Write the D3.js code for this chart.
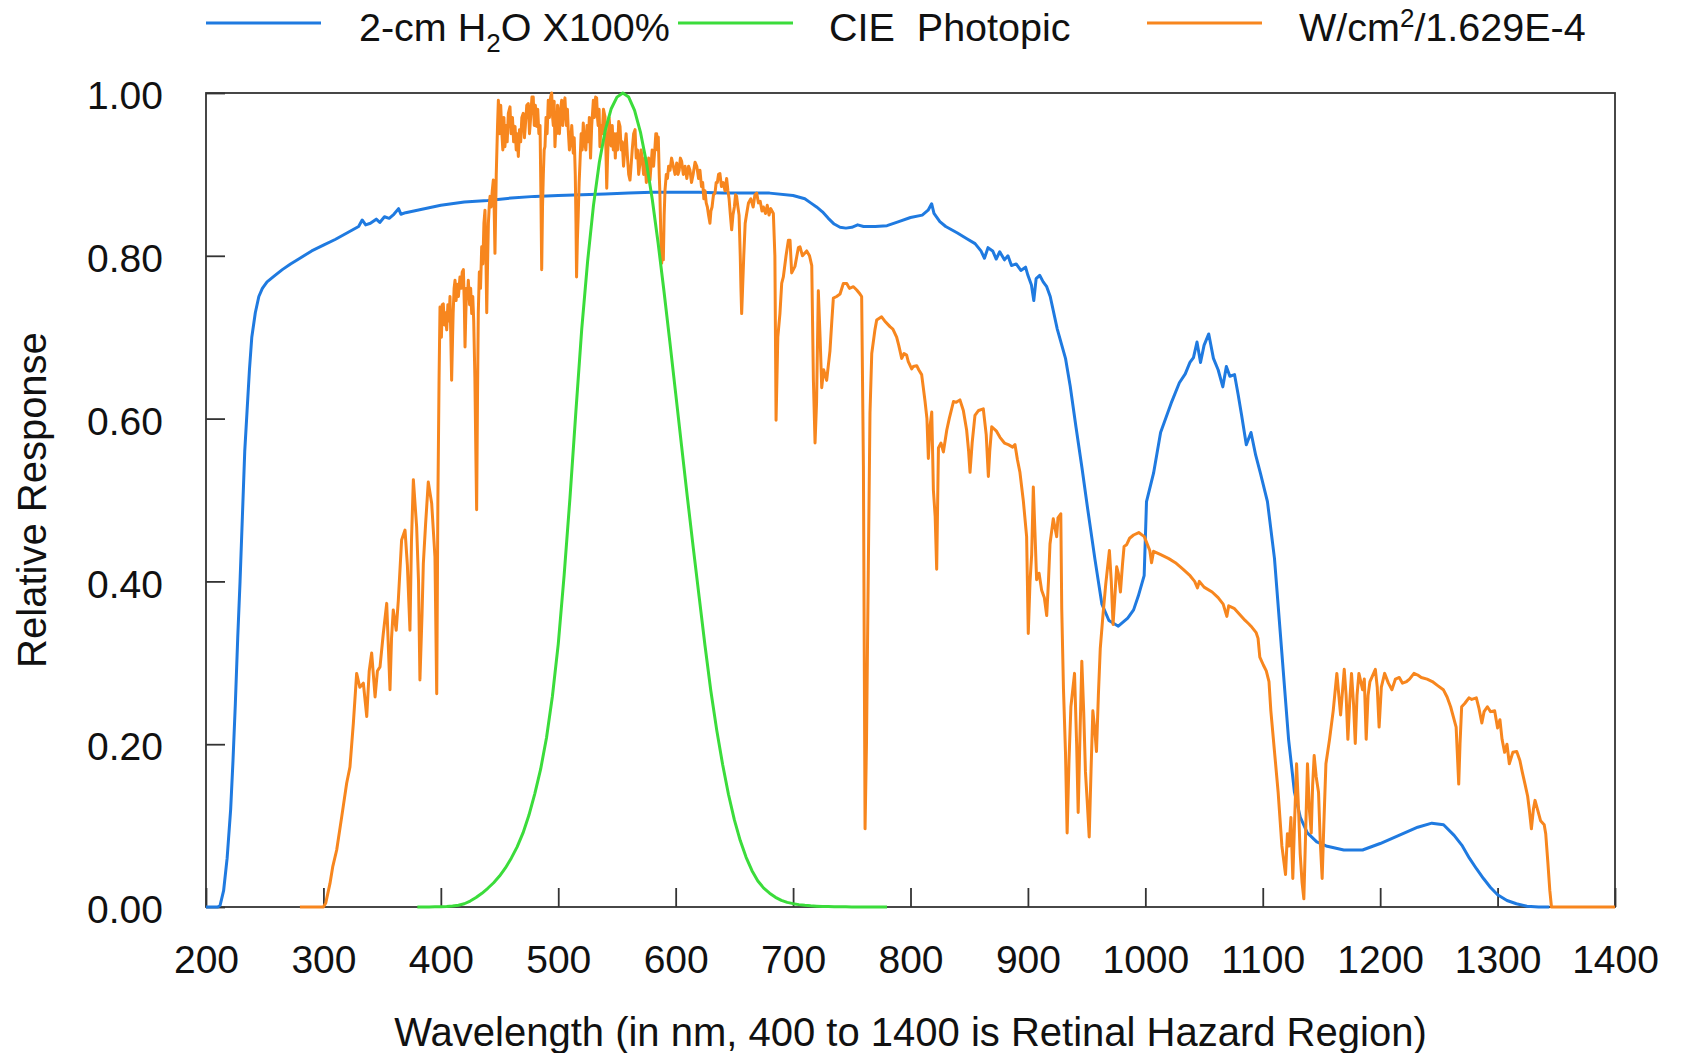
<!DOCTYPE html>
<html>
<head>
<meta charset="utf-8">
<script src="https://cdn.jsdelivr.net/npm/d3@7/dist/d3.min.js"></script>
<style>
  html, body { margin: 0; padding: 0; background: #fff; }
  svg { display: block; }
  text { font-family: "Liberation Sans", Arial, Helvetica, sans-serif; fill: #111; }
</style>
</head>
<body>
<svg id="chart" width="1681" height="1053"></svg>
<script>
// Axis ticks
const xTicks = [200, 300, 400, 500, 600, 700, 800, 900, 1000, 1100, 1200, 1300, 1400];
const yTicks = [0, 0.2, 0.4, 0.6, 0.8, 1.0];

// 2-cm water transmission (x100%), [wavelength nm, relative response]
const waterTransmission = [
  [200,0],[210,0],[212,0.002],[215,0.02],[218,0.06],[221,0.12],[223,0.18],[225,0.25],[227,0.33],
  [229,0.40],[231,0.48],[233,0.56],[235,0.61],[237,0.66],[239,0.70],[242,0.73],[245,0.75],[248,0.76],
  [252,0.768],[258,0.775],[265,0.783],[272,0.79],[280,0.797],[290,0.806],[300,0.813],[310,0.82],
  [320,0.828],[330,0.836],[333,0.844],[336,0.838],[340,0.84],[345,0.845],[348,0.841],[352,0.848],
  [356,0.846],[360,0.851],[364,0.858],[366,0.851],[370,0.853],[380,0.856],[390,0.859],[400,0.862],
  [420,0.866],[440,0.868],[460,0.871],[480,0.873],[500,0.874],[520,0.875],[540,0.876],[560,0.877],
  [580,0.878],[600,0.878],[620,0.878],[640,0.877],[660,0.877],[680,0.877],[700,0.874],[710,0.87],
  [715,0.865],[720,0.86],[725,0.854],[730,0.846],[735,0.839],[740,0.835],[745,0.834],[750,0.835],
  [755,0.838],[760,0.836],[770,0.836],[780,0.837],[790,0.842],[800,0.847],[810,0.850],[815,0.856],
  [818,0.864],[820,0.852],[825,0.842],[830,0.836],[840,0.828],[848,0.821],[855,0.815],[860,0.806],
  [863,0.797],[866,0.81],[870,0.806],[873,0.796],[876,0.805],[880,0.795],[883,0.80],[886,0.788],
  [890,0.79],[894,0.782],[898,0.786],[900,0.776],[903,0.764],[905,0.745],[907,0.772],[910,0.776],
  [913,0.768],[916,0.762],[919,0.75],[925,0.71],[932,0.674],[936,0.64],[941,0.589],[946,0.54],
  [951,0.488],[957,0.428],[963,0.372],[969,0.352],[977,0.345],[985,0.355],[990,0.365],[994,0.382],
  [999,0.407],[1001,0.498],[1007,0.533],[1013,0.583],[1022,0.619],[1029,0.644],[1034,0.655],
  [1038,0.669],[1041,0.675],[1044,0.694],[1047,0.669],[1050,0.69],[1054,0.704],[1058,0.674],
  [1062,0.66],[1066,0.639],[1069,0.664],[1072,0.652],[1076,0.654],[1079,0.63],[1082,0.604],
  [1086,0.568],[1090,0.583],[1094,0.555],[1098,0.533],[1104,0.498],[1110,0.428],[1116,0.317],
  [1122,0.206],[1127,0.141],[1132,0.11],[1138,0.091],[1146,0.08],[1154,0.075],[1169,0.070],
  [1185,0.070],[1200,0.078],[1216,0.088],[1232,0.098],[1244,0.103],[1254,0.101],[1263,0.088],
  [1270,0.075],[1276,0.060],[1282,0.047],[1288,0.035],[1294,0.024],[1300,0.015],[1308,0.008],
  [1316,0.004],[1325,0.001],[1335,0],[1344,0]
];

// CIE 1931 photopic luminous efficiency V(lambda)
const photopic = [
  [380,0.000039],[385,0.000064],[390,0.00012],[395,0.000217],[400,0.000396],[405,0.00064],
  [410,0.00121],[415,0.00218],[420,0.004],[425,0.0073],[430,0.0116],[435,0.01684],[440,0.023],
  [445,0.0298],[450,0.038],[455,0.048],[460,0.06],[465,0.0739],[470,0.09098],[475,0.1126],
  [480,0.13902],[485,0.1693],[490,0.20802],[495,0.2586],[500,0.323],[505,0.4073],[510,0.503],
  [515,0.6082],[520,0.71],[525,0.7932],[530,0.862],[535,0.91485],[540,0.954],[545,0.9803],
  [550,0.99495],[555,1.0],[560,0.995],[565,0.9786],[570,0.952],[575,0.9154],[580,0.87],
  [585,0.8163],[590,0.757],[595,0.6949],[600,0.631],[605,0.5668],[610,0.503],[615,0.4412],
  [620,0.381],[625,0.321],[630,0.265],[635,0.217],[640,0.175],[645,0.1382],[650,0.107],
  [655,0.0816],[660,0.061],[665,0.04458],[670,0.032],[675,0.0232],[680,0.017],[685,0.01192],
  [690,0.00821],[695,0.005723],[700,0.004102],[705,0.002929],[710,0.002091],[715,0.001484],
  [720,0.001047],[725,0.00074],[730,0.00052],[735,0.000361],[740,0.000249],[745,0.000172],
  [750,0.00012],[755,0.0000848],[760,0.00006],[765,0.0000424],[770,0.00003],[775,0.0000212],
  [780,0.000015]
];

// Solar irradiance, W/cm^2 divided by 1.629E-4
const solarIrradiance = [
  [280,0],[290,0],[300,0],[302,0.005],[305.6,0.029],[308,0.05],[311.3,0.07],[315.6,0.111],
  [319.8,0.152],[322.6,0.172],[325.5,0.226],[328.3,0.287],[331,0.27],[334,0.275],[336.9,0.234],
  [339,0.29],[341.1,0.312],[344,0.258],[346,0.29],[348.2,0.295],[351,0.336],[353.9,0.373],
  [356.7,0.267],[358,0.33],[359.5,0.365],[362,0.34],[363.8,0.377],[366.6,0.451],[369.5,0.463],
  [371.5,0.42],[373.7,0.340],[375,0.45],[376.6,0.525],[379.4,0.467],[381,0.40],[382.2,0.279],
  [384,0.36],[385.1,0.422],[387,0.47],[389.3,0.522],[392.2,0.496],[395,0.43],[396.5,0.262],
  [397.5,0.50],[398.5,0.65],[399.3,0.737],[400.5,0.70],[401.2,0.74],[402.1,0.741],[403,0.715],
  [404,0.73],[405,0.709],[406,0.74],[407,0.72],[407.8,0.75],[408.5,0.70],[409.2,0.647],[410,0.70],
  [410.5,0.73],[411.3,0.76],[412.1,0.770],[413,0.745],[414,0.765],[415,0.75],[416.3,0.774],
  [417.3,0.76],[418.2,0.78],[419.2,0.783],[420,0.74],[420.6,0.688],[421.3,0.73],[422,0.76],
  [422.7,0.75],[423.4,0.77],[424.5,0.74],[425.4,0.76],[426.3,0.729],[427.2,0.75],[428,0.72],
  [429,0.65],[429.8,0.56],[430.5,0.488],[431.2,0.62],[431.9,0.73],[432.8,0.78],[433.8,0.76],
  [434.8,0.811],[435.8,0.79],[436.7,0.84],[437.6,0.856],[438.4,0.80],[439.1,0.73],[439.8,0.79],
  [440.5,0.84],[441.2,0.86],[441.9,0.873],[442.8,0.86],[443.8,0.88],[444.7,0.893],[445.4,0.86],
  [446.1,0.803],[447.2,0.90],[448.3,0.96],[449,0.991],[450,0.95],[451,0.985],[451.8,0.955],
  [452.8,0.93],[453.7,0.97],[454.6,0.934],[455.6,0.96],[456.5,0.94],[457.5,0.975],[458.9,0.983],
  [459.8,0.95],[461,0.97],[462,0.94],[463.2,0.959],[464.2,0.93],[465,0.95],[466,0.922],[467,0.955],
  [468,0.94],[469,0.97],[470.2,0.975],[471.2,0.945],[472,0.96],[473.2,0.985],[474.5,0.987],
  [475.5,0.95],[476.5,0.97],[477.6,0.995],[478.7,0.995],[479.6,0.96],[480.5,0.985],[481.6,0.959],
  [482.5,0.98],[483.5,0.95],[484.5,0.96],[485.2,0.88],[485.9,0.783],[486.6,0.86],[487.3,0.90],
  [488,0.93],[488.7,0.934],[489.6,0.97],[490.5,0.95],[491.5,0.991],[492.5,0.97],[493.5,0.995],
  [494.4,1.0],[495.2,0.97],[495.8,0.96],[496.5,0.99],[497.2,0.934],[498,0.96],[498.6,0.95],
  [499.4,0.985],[500,0.971],[501,0.95],[502,0.98],[502.9,0.991],[503.8,0.96],[504.7,0.985],
  [505.7,0.994],[506.5,0.97],[507,0.96],[507.8,0.98],[508.5,0.955],[509.5,0.93],[510.5,0.94],
  [511.5,0.96],[512.8,0.926],[513.6,0.945],[514.5,0.90],[515.1,0.84],[515.6,0.774],[516.3,0.82],
  [517,0.85],[517.8,0.89],[518.5,0.914],[519.5,0.95],[520.4,0.93],[521.3,0.963],[522.3,0.94],
  [523.5,0.93],[524.5,0.96],[525.6,0.94],[526.5,0.97],[527.5,0.92],[528.5,0.96],[529.9,0.991],
  [530.8,0.97],[531.8,0.995],[532.7,0.994],[533.4,0.97],[534,0.96],[534.8,0.98],[535.5,0.934],
  [536.5,0.96],[537.5,0.95],[538.5,0.98],[539.8,0.971],[540.6,0.93],[541.3,0.883],[542,0.92],
  [542.5,0.94],[543.3,0.97],[544.1,0.955],[545,0.935],[546,0.96],[546.9,0.93],[547.8,0.95],
  [548.6,0.92],[549.5,0.95],[550.5,0.93],[551.5,0.965],[552.6,0.959],[553.6,0.93],[554.5,0.94],
  [555.6,0.91],[556.8,0.934],[557.8,0.95],[559,0.92],[560,0.90],[561.1,0.893],[562,0.91],[563,0.93],
  [564.2,0.95],[565.4,0.955],[566.4,0.92],[567.5,0.93],[568.5,0.90],[569.6,0.914],[570.5,0.93],
  [571.5,0.92],[572.7,0.90],[573.9,0.92],[575,0.89],[576,0.90],[577,0.92],[578.1,0.893],[579,0.91],
  [580,0.93],[581.2,0.91],[582.4,0.934],[583.1,0.95],[583.8,0.950],[584.5,0.93],[585.2,0.946],
  [586,0.90],[586.5,0.88],[587.3,0.83],[588.1,0.791],[588.8,0.82],[589.5,0.795],[590.2,0.85],
  [590.9,0.88],[592,0.90],[593,0.895],[594,0.91],[595.2,0.905],[596.5,0.92],[598,0.91],[599.5,0.90],
  [600.9,0.914],[602,0.90],[603,0.905],[604,0.92],[605.1,0.916],[606.5,0.90],[608,0.91],
  [609.5,0.895],[611,0.91],[612.2,0.905],[613.5,0.89],[615,0.901],[616.5,0.915],[618,0.91],
  [619.5,0.895],[620.7,0.905],[622,0.885],[623,0.89],[624,0.87],[625,0.88],[626,0.865],[627,0.86],
  [628,0.85],[629.2,0.840],[630,0.855],[631,0.86],[632.2,0.875],[633.5,0.877],[634.5,0.89],
  [635.5,0.89],[636.5,0.90],[637.7,0.901],[639,0.885],[640.5,0.89],[642,0.88],[643.4,0.895],
  [644.5,0.88],[645.5,0.87],[646.6,0.85],[647.7,0.832],[648.8,0.85],[650,0.86],[651,0.875],
  [651.9,0.873],[653,0.86],[654,0.85],[655,0.80],[655.6,0.76],[656.2,0.729],[657,0.76],[658,0.80],
  [659.2,0.84],[660.5,0.852],[662,0.865],[664,0.87],[666,0.86],[667.5,0.875],[669,0.877],
  [670.5,0.865],[672,0.867],[673.5,0.855],[674.7,0.860],[676.5,0.852],[678,0.862],[679.5,0.85],
  [681,0.858],[683.2,0.852],[684.5,0.80],[685.5,0.598],[687,0.70],[688.8,0.729],[690.3,0.766],
  [691.7,0.774],[694,0.80],[696,0.819],[697.4,0.819],[698.8,0.779],[701.6,0.787],[704.5,0.810],
  [705.9,0.811],[708,0.80],[711.6,0.806],[714,0.80],[715.9,0.788],[717.3,0.647],[718.7,0.570],
  [720,0.62],[721.5,0.757],[723,0.70],[724.4,0.638],[726,0.66],[728.6,0.647],[731.4,0.683],
  [733,0.72],[734.3,0.748],[737.1,0.750],[740,0.753],[742.8,0.766],[745.7,0.766],[748,0.76],
  [751.4,0.762],[754.2,0.758],[757,0.753],[758.4,0.75],[759.9,0.542],[761.3,0.096],[762.5,0.20],
  [764.1,0.42],[765.5,0.607],[767,0.68],[769.7,0.709],[771.2,0.721],[775.4,0.725],[778,0.72],
  [782.5,0.713],[785,0.71],[788.2,0.700],[790,0.69],[792.5,0.674],[794.5,0.68],[796.7,0.678],
  [798.1,0.67],[801,0.661],[802.4,0.664],[805.3,0.665],[807,0.66],[809.5,0.654],[812.4,0.621],
  [814,0.60],[815.2,0.551],[816.6,0.59],[818.1,0.608],[819.5,0.512],[821,0.48],[822.3,0.415],
  [823.8,0.564],[826,0.57],[828,0.559],[830.9,0.586],[833,0.60],[836.6,0.621],[839,0.62],
  [842.1,0.623],[845,0.61],[847.8,0.586],[849.5,0.56],[850.7,0.534],[852.5,0.57],[854.9,0.604],
  [858,0.61],[862,0.612],[864.5,0.58],[866.3,0.529],[867.5,0.56],[869.2,0.590],[873,0.585],
  [876.2,0.577],[880,0.57],[883.3,0.568],[887,0.565],[889,0.568],[891,0.55],[893.2,0.534],
  [896.1,0.499],[898.9,0.455],[900.3,0.336],[901.8,0.40],[903.2,0.433],[904.6,0.516],[906,0.46],
  [907.4,0.402],[909.5,0.41],[911.7,0.389],[914,0.38],[916,0.358],[917.5,0.40],[918.8,0.446],
  [921.6,0.477],[924.5,0.455],[925.6,0.478],[928,0.483],[928.8,0.367],[930.3,0.267],[932,0.19],
  [933.4,0.091],[935,0.18],[936.6,0.246],[939.7,0.287],[941.5,0.2],[942.8,0.116],[944.5,0.22],
  [945.9,0.302],[947.5,0.24],[949,0.166],[950.5,0.13],[952.2,0.086],[953.8,0.17],[955.3,0.241],
  [956.8,0.22],[958.4,0.191],[960,0.26],[961.6,0.317],[964,0.36],[966.3,0.397],[969.4,0.438],
  [971,0.40],[972.5,0.347],[974,0.38],[975.6,0.418],[977,0.41],[978.8,0.387],[980.5,0.42],
  [981.9,0.443],[984,0.445],[986.6,0.453],[990,0.457],[994.4,0.460],[999.1,0.455],[1003.8,0.438],
  [1005.3,0.423],[1007,0.437],[1013.1,0.433],[1020,0.428],[1025.6,0.423],[1032,0.415],
  [1038.1,0.407],[1042,0.40],[1044.4,0.392],[1046,0.40],[1050,0.393],[1056.9,0.387],[1062,0.38],
  [1066.3,0.372],[1069.4,0.357],[1071,0.37],[1075.6,0.367],[1080,0.36],[1085,0.352],[1088,0.348],
  [1090,0.345],[1094.4,0.337],[1096,0.33],[1097.5,0.307],[1100.6,0.297],[1103,0.29],[1105.3,0.277],
  [1106.9,0.241],[1110,0.191],[1113.1,0.141],[1116.3,0.075],[1119.4,0.040],[1121,0.09],
  [1122.5,0.075],[1124,0.11],[1125.6,0.035],[1127,0.10],[1128.8,0.176],[1130.5,0.12],[1131.9,0.065],
  [1133.5,0.03],[1135,0.010],[1136.5,0.09],[1138.1,0.176],[1139.7,0.12],[1141.3,0.091],[1142.5,0.15],
  [1143.8,0.186],[1145.5,0.16],[1147.5,0.141],[1149,0.08],[1150.6,0.035],[1152,0.10],[1153.8,0.176],
  [1156.9,0.206],[1160,0.241],[1163.1,0.287],[1166.3,0.236],[1169.4,0.292],[1171,0.26],[1172.5,0.206],
  [1174,0.25],[1175.6,0.287],[1177.3,0.25],[1178.8,0.201],[1180.3,0.26],[1181.9,0.287],[1185,0.267],
  [1186.5,0.28],[1188.1,0.206],[1189.7,0.26],[1191.3,0.277],[1195.9,0.292],[1197.5,0.27],
  [1199.1,0.221],[1201,0.27],[1203.8,0.287],[1207,0.275],[1210,0.267],[1213,0.28],[1216.3,0.282],
  [1219,0.275],[1222.5,0.277],[1225,0.28],[1228.8,0.287],[1232,0.285],[1235,0.282],[1240,0.28],
  [1244.4,0.277],[1249,0.272],[1253.8,0.267],[1257,0.258],[1260,0.246],[1264.7,0.221],[1266.9,0.151],
  [1268,0.2],[1269.4,0.246],[1272,0.25],[1275.6,0.257],[1278,0.255],[1281.9,0.257],[1284,0.245],
  [1286.6,0.226],[1288.5,0.24],[1291.3,0.246],[1294,0.24],[1297.5,0.241],[1300,0.22],[1302,0.23],
  [1303.8,0.206],[1306,0.19],[1308,0.20],[1310,0.176],[1313,0.19],[1316.3,0.191],[1319,0.18],
  [1321,0.166],[1323.5,0.15],[1325.6,0.136],[1327,0.12],[1328.8,0.096],[1330.5,0.12],[1331.9,0.131],
  [1334,0.12],[1336.6,0.106],[1339.7,0.101],[1341,0.09],[1342.8,0.055],[1344.5,0.02],[1345.9,0],
  [1350,0],[1400,0]
];

// Legend labels, split into normal / subscript / superscript runs
const legendLabels = [
  [["2-cm H", "n"], ["2", "sub"], ["O X100%", "n"]],
  [["CIE  Photopic", "n"]],
  [["W/cm", "n"], ["2", "sup"], ["/1.629E-4", "n"]]
];

const colors = ["#1f7ae0", "#3bdc3b", "#f7861e"];
const seriesData = [waterTransmission, photopic, solarIrradiance];

const svg = d3.select("#chart");
const margin = { left: 206, right: 1615, top: 93, bottom: 907 };

const x = d3.scaleLinear().domain([200, 1400]).range([margin.left, margin.right]);
const y = d3.scaleLinear().domain([0, 1]).range([margin.bottom, margin.top]);

// Plot frame
svg.append("rect")
  .attr("x", margin.left).attr("y", margin.top)
  .attr("width", margin.right - margin.left)
  .attr("height", margin.bottom - margin.top)
  .attr("fill", "none").attr("stroke", "#333").attr("stroke-width", 1.8);

// Axes with inward ticks
const xAxis = svg.append("g")
  .attr("transform", `translate(0,${margin.bottom})`)
  .call(d3.axisBottom(x).tickValues(xTicks).tickSize(-19).tickPadding(38).tickFormat(d3.format("d")));
const yAxis = svg.append("g")
  .attr("transform", `translate(${margin.left},0)`)
  .call(d3.axisLeft(y).tickValues(yTicks).tickSize(-19).tickPadding(43).tickFormat(d3.format(".2f")));

[xAxis, yAxis].forEach(g => {
  g.select(".domain").remove();
  g.selectAll(".tick line").attr("stroke", "#333").attr("stroke-width", 1.8);
  g.selectAll(".tick text")
    .attr("fill", "#111")
    .style("font-family", '"Liberation Sans", Arial, sans-serif')
    .style("font-size", "39px");
});
yAxis.selectAll(".tick text").attr("dy", "0.4em");

// Series lines
const line = d3.line().x(d => x(d[0])).y(d => y(d[1]));
const drawOrder = [0, 2, 1];
drawOrder.forEach(i => {
  svg.append("path")
    .datum(seriesData[i])
    .attr("d", line)
    .attr("fill", "none")
    .attr("stroke", colors[i])
    .attr("stroke-width", 3)
    .attr("stroke-linejoin", "round");
});

// Axis titles
svg.append("text")
  .attr("x", (margin.left + margin.right) / 2).attr("y", 1046)
  .attr("text-anchor", "middle")
  .style("font-size", "40px")
  .text("Wavelength (in nm, 400 to 1400 is Retinal Hazard Region)");

svg.append("text")
  .attr("transform", `translate(46,${(margin.top + margin.bottom) / 2}) rotate(-90)`)
  .attr("text-anchor", "middle")
  .style("font-size", "40px")
  .text("Relative Response");

// Legend
const legendLineX = [206, 678, 1147];
const legendTextX = [359, 829, 1299];
legendLabels.forEach((parts, i) => {
  svg.append("line")
    .attr("x1", legendLineX[i]).attr("x2", legendLineX[i] + 115)
    .attr("y1", 23).attr("y2", 23)
    .attr("stroke", colors[i]).attr("stroke-width", 3);
  const t = svg.append("text")
    .attr("x", legendTextX[i]).attr("y", 41)
    .style("font-size", "39.5px")
    .style("white-space", "pre")
    .attr("xml:space", "preserve");
  let prevKind = "n";
  parts.forEach(([str, kind]) => {
    const span = t.append("tspan").text(str);
    if (kind === "sub") span.style("font-size", "26px").attr("dy", 11);
    if (kind === "sup") span.style("font-size", "26px").attr("dy", -14);
    if (kind === "n" && prevKind === "sub") span.attr("dy", -11);
    if (kind === "n" && prevKind === "sup") span.attr("dy", 14);
    prevKind = kind;
  });
});
</script>
</body>
</html>
